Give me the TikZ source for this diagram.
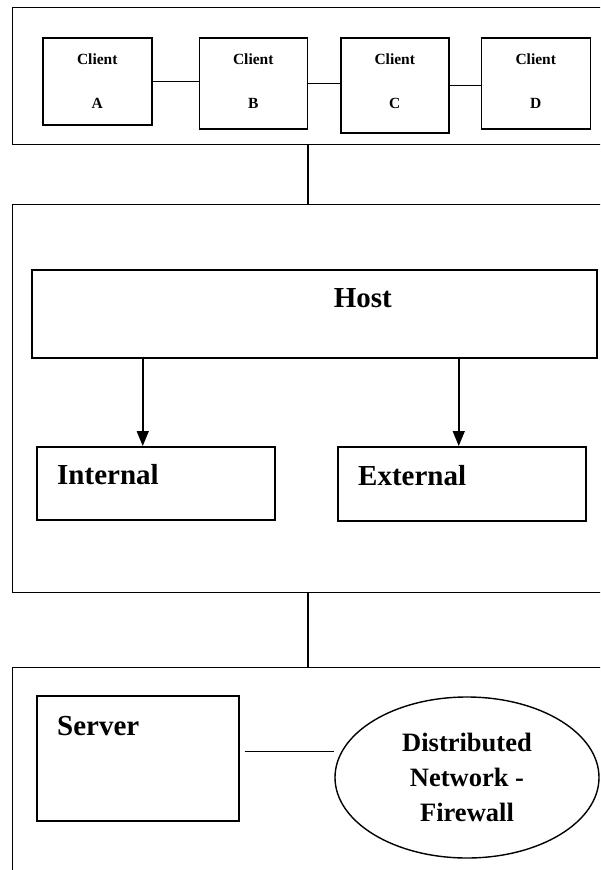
\documentclass[tikz,border=0pt]{standalone}
\usepackage{fontspec}
\setmainfont{Liberation Serif}
\usetikzlibrary{arrows.meta, positioning, shapes.geometric}
\newcommand{\clientfont}{\fontsize{15.5}{44}\selectfont\bfseries}
\newcommand{\tierfont}{\fontsize{29}{35}\selectfont\bfseries}
\newcommand{\netfont}{\fontsize{26.5}{35}\selectfont\bfseries}
\tikzset{
  tier/.style={
    rectangle, draw, line width=1.4pt,
    minimum width=640pt, anchor=north west, inner sep=0pt},
  client/.style={
    rectangle, draw, line width=1.5pt,
    minimum width=108pt, anchor=north west,
    text centered, align=center, font=\clientfont},
  unit/.style={
    rectangle, draw, line width=1.5pt,
    anchor=north west, inner sep=0pt},
  lbl/.style={font=\tierfont, inner sep=0pt},
  firewall/.style={
    ellipse, draw, line width=1.4pt,
    text centered, align=center, font=\netfont},
  link/.style={line width=1.4pt},
  arr/.style={-{Triangle[length=15pt,width=12pt]}, line width=1.5pt},
}

\begin{document}
\begin{tikzpicture}[x=1pt, y=-1pt]
  \useasboundingbox (0,0) rectangle (600,870);
  \clip (0,0) rectangle (600,870);

  % tiers
  \node[tier, minimum height=137pt] (clients)    at (12,7)   {};
  \node[tier, minimum height=388pt] (hosttier)   at (12,204) {};
  \node[tier, minimum height=250pt] (servertier) at (12,667) {};

  % client row
  \node[client, minimum width=109pt, minimum height=87pt] (clientA) at (42,37) {Client\\A};
  \node[client, minimum height=91pt, text depth=4pt, right=46pt of clientA.north east, anchor=north west] (clientB) {Client\\B};
  \node[client, minimum height=95pt, text depth=8pt, right=32pt of clientB.north east, anchor=north west] (clientC) {Client\\C};
  \node[client, minimum width=109pt, minimum height=91pt, text depth=4pt, right=31pt of clientC.north east, anchor=north west] (clientD) {Client\\D};

  \draw[link] (clientA.east) -- (clientA.east -| clientB.west);
  \draw[link] (clientB.east) -- (clientB.east -| clientC.west);
  \draw[link] (clientC.east) -- (clientC.east -| clientD.west);

  \draw[link] (clients.south -| clientB.east)  -- (hosttier.north -| clientB.east);
  \draw[link] (hosttier.south -| clientB.east) -- (servertier.north -| clientB.east);

  % host tier
  \node[unit, minimum width=565pt, minimum height=88pt,
    label={[lbl, xshift=48.5pt, yshift=16pt]center:Host}] (host) at (31,269) {};
  \node[unit, minimum width=238pt, minimum height=73pt,
    label={[lbl, anchor=west, xshift=21pt, yshift=8.5pt]west:Internal}] (internal) at (36,446) {};
  \node[unit, minimum width=248pt, minimum height=74pt,
    label={[lbl, anchor=west, xshift=21pt, yshift=8.5pt]west:External}] (external) at (337,446) {};

  \draw[arr] ([xshift=-13pt]internal.north |- host.south) -- ([xshift=-13pt]internal.north);
  \draw[arr] ([xshift=-3pt]external.north |- host.south)  -- ([xshift=-3pt]external.north);

  % server tier
  \node[unit, minimum width=202pt, minimum height=125pt,
    label={[lbl, anchor=west, xshift=21pt, yshift=32.5pt]west:Server}] (server) at (36,695) {};
  \node[firewall, minimum width=264pt, minimum height=161pt] (fw) at (467,777.5)
    {Distributed\\Network -\\Firewall};

  \draw[link] ([xshift=5pt,yshift=6.5pt]server.east) -- ([yshift=6.5pt]server.east -| fw.west);

\end{tikzpicture}
\end{document}
